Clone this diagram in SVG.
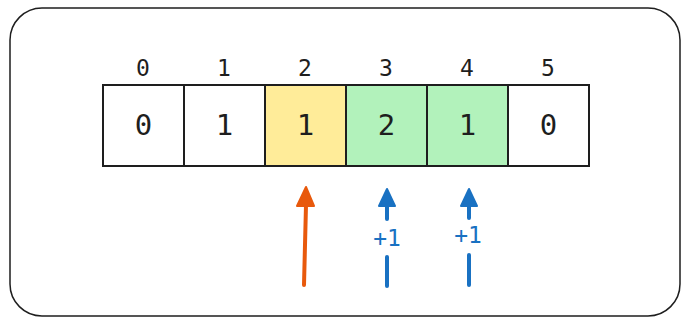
<svg xmlns="http://www.w3.org/2000/svg" width="692" height="326" viewBox="0 0 692 326">
<style>
.frame{fill:#ffffff;stroke:#1e1e1e;stroke-width:1.5}
.cell{stroke:#1e1e1e;stroke-width:2}
.idx{font-family:"DejaVu Sans Mono","Liberation Mono",monospace;font-size:23px;fill:#1e1e1e;text-anchor:middle}
.val{font-family:"DejaVu Sans Mono","Liberation Mono",monospace;font-size:29px;fill:#1e1e1e;text-anchor:middle;dominant-baseline:central}
.lbl{font-family:"DejaVu Sans Mono","Liberation Mono",monospace;font-size:23px;fill:#1971c2;text-anchor:middle;dominant-baseline:central}
.orange{stroke:#e8590c;stroke-width:4;stroke-linecap:round;fill:none}
.blue{stroke:#1971c2;stroke-width:4;stroke-linecap:round;fill:none}
</style>
<rect class="frame" x="10" y="8" width="670" height="308" rx="32" ry="32"/>
<g id="indices">
<text class="idx" x="143" y="76">0</text>
<text class="idx" x="224" y="76">1</text>
<text class="idx" x="305" y="76">2</text>
<text class="idx" x="386" y="76">3</text>
<text class="idx" x="467" y="76">4</text>
<text class="idx" x="548" y="76">5</text>
</g>
<g id="cell0"><rect class="cell" x="103" y="85" width="81" height="81" fill="#ffffff"/><text class="val" x="143.5" y="125">0</text></g>
<g id="cell1"><rect class="cell" x="184" y="85" width="81" height="81" fill="#ffffff"/><text class="val" x="224.5" y="125">1</text></g>
<g id="cell2"><rect class="cell" x="265" y="85" width="81" height="81" fill="#ffec99"/><text class="val" x="305.5" y="125">1</text></g>
<g id="cell3"><rect class="cell" x="346" y="85" width="81" height="81" fill="#b2f2bb"/><text class="val" x="386.5" y="125">2</text></g>
<g id="cell4"><rect class="cell" x="427" y="85" width="81" height="81" fill="#b2f2bb"/><text class="val" x="467.5" y="125">1</text></g>
<g id="cell5"><rect class="cell" x="508" y="85" width="81" height="81" fill="#ffffff"/><text class="val" x="548.5" y="125">0</text></g>
<g id="connectors">
<line class="orange" x1="304" y1="285" x2="306" y2="205"/>
<path d="M297,206 L306,187 L314,206 Z" fill="#e8590c" stroke="#e8590c" stroke-width="2" stroke-linejoin="round"/>
<line class="blue" x1="387" y1="219" x2="387" y2="205"/>
<path d="M379,206 L387,189 L395,206 Z" fill="#1971c2" stroke="#1971c2" stroke-width="2" stroke-linejoin="round"/>
<line class="blue" x1="387" y1="257" x2="387" y2="286"/>
<line class="blue" x1="469" y1="218" x2="469" y2="205"/>
<path d="M461,206 L469,189 L477,206 Z" fill="#1971c2" stroke="#1971c2" stroke-width="2" stroke-linejoin="round"/>
<line class="blue" x1="469" y1="255" x2="469" y2="285"/>
<text class="lbl" x="387" y="238">+1</text>
<text class="lbl" x="468" y="235">+1</text>
</g>
</svg>
